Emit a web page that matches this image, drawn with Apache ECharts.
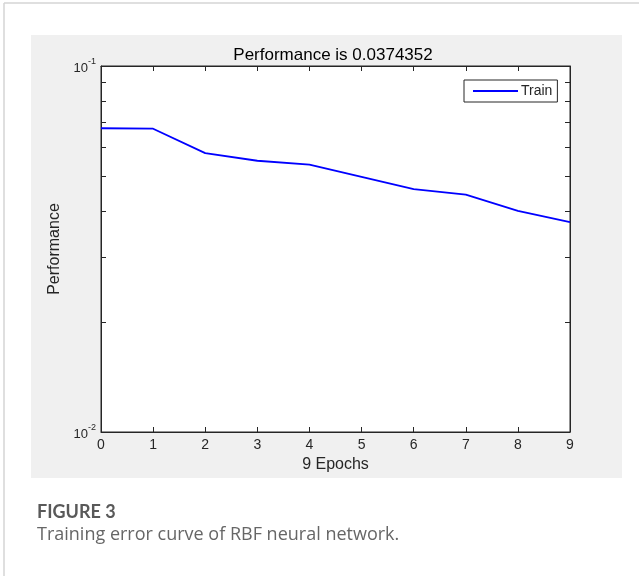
<!DOCTYPE html>
<html><head><meta charset="utf-8">
<script src="https://cdn.jsdelivr.net/npm/echarts@6/dist/echarts.min.js"></script>
<style>html,body{margin:0;padding:0;background:#fff}#c{width:639px;height:576px}</style>
</head><body><div id="c"></div>
<script>
// ---- data ----
const epochs = [0, 1, 2, 3, 4, 5, 6, 7, 8, 9];
const trainPerf = [0.0676, 0.0674, 0.0578, 0.0551, 0.0538, 0.0498, 0.0461, 0.0445, 0.0402, 0.0374352];
const yTickValues = [0.01, 0.02, 0.03, 0.04, 0.05, 0.06, 0.07, 0.08, 0.09, 0.1];
const yLabelValues = [0.01, 0.1];
const seriesName = 'Train';
const titleText = 'Performance is 0.0374352';
const xName = '9 Epochs';
const yName = 'Performance';
const figLabel = 'FIGURE 3';
const figCaption = 'Training error curve of RBF neural network.';

const FF = '"Liberation Sans", Arial, Helvetica, sans-serif';
const AX = '#262626';
const chart = echarts.init(document.getElementById('c'), null, {renderer: 'canvas'});

function yAxisDef(pos, showLabel) {
  return {
    type: 'log', logBase: 10, min: 0.01, max: 0.1, position: pos,
    axisLine: {show: true, onZero: false, lineStyle: {color: AX, width: 1}},
    axisTick: {show: true, inside: true, length: 5, customValues: yTickValues, lineStyle: {color: AX, width: 1}},
    minorTick: {show: false},
    splitLine: {show: false},
    axisLabel: {
      show: showLabel, margin: 5, customValues: yLabelValues,
      formatter: v => '{n|10}{s|' + Math.round(Math.log10(v)) + '}',
      rich: {
        n: {fontSize: 13, fontFamily: FF, color: AX, lineHeight: 18, verticalAlign: 'bottom', padding: [6, 0, 0, 0]},
        s: {fontSize: 9, fontFamily: FF, color: AX, lineHeight: 18, verticalAlign: 'top', padding: [0, 0, 6, 0]}
      }
    },
    name: showLabel ? yName : '',
    nameLocation: 'middle', nameGap: 38, nameRotate: 90,
    nameTextStyle: {fontSize: 16, fontFamily: FF, color: AX}
  };
}
function xAxisDef(pos, showLabel) {
  return {
    type: 'value', min: 0, max: 9, interval: 1, position: pos,
    axisLine: {show: true, onZero: false, lineStyle: {color: AX, width: 1}},
    axisTick: {show: true, inside: true, length: 5, lineStyle: {color: AX, width: 1}},
    splitLine: {show: false},
    axisLabel: {show: showLabel, margin: 6, fontSize: 14, fontFamily: FF, color: AX},
    name: showLabel ? xName : '',
    nameLocation: 'middle', nameGap: 25,
    nameTextStyle: {fontSize: 16, fontFamily: FF, color: AX}
  };
}

const option = {
  backgroundColor: '#ffffff',
  animation: false,
  title: {
    text: titleText, left: 333, top: 47, textAlign: 'center', padding: 0,
    textStyle: {fontSize: 17, fontWeight: 'normal', fontFamily: FF, color: '#000'}
  },
  grid: {left: 101, top: 66, width: 469, height: 366, show: true, backgroundColor: '#ffffff', borderColor: AX, borderWidth: 1},
  legend: {
    data: [seriesName], left: 464, top: 80,
    backgroundColor: '#ffffff', borderColor: AX, borderWidth: 1, borderRadius: 0,
    padding: [4, 5, 4, 9], itemWidth: 45, itemHeight: 2, itemGap: 4, icon: 'rect',
    textStyle: {fontSize: 14, fontFamily: FF, color: AX, padding: [0, 0, 0, -2]}
  },
  xAxis: [xAxisDef('bottom', true), xAxisDef('top', false)],
  yAxis: [yAxisDef('left', true), yAxisDef('right', false)],
  series: [{
    name: seriesName, type: 'line', xAxisIndex: 0, yAxisIndex: 0,
    data: epochs.map((e, i) => [e, trainPerf[i]]),
    symbol: 'none', showSymbol: false,
    lineStyle: {color: '#0000ff', width: 1.8}, itemStyle: {color: '#0000ff'}
  }],
  graphic: [
    {type: 'line', z: -20, shape: {x1: 4, y1: 3, x2: 639, y2: 3}, style: {stroke: '#d4d4d4', lineWidth: 1.5}},
    {type: 'line', z: -20, shape: {x1: 4, y1: 3, x2: 4, y2: 576}, style: {stroke: '#d4d4d4', lineWidth: 1.5}},
    {type: 'rect', z: -20, shape: {x: 31, y: 35, width: 591, height: 443}, style: {fill: '#f0f0f0'}},
    {type: 'text', left: 37, top: 503, style: {text: figLabel, font: 'bold 18px Lato, "Open Sans", sans-serif', fill: '#595959'}},
    {type: 'text', left: 37, top: 526, style: {text: figCaption, font: '18px "Open Sans", Lato, sans-serif', fill: '#666666'}}
  ]
};
chart.setOption(option);
</script></body></html>
